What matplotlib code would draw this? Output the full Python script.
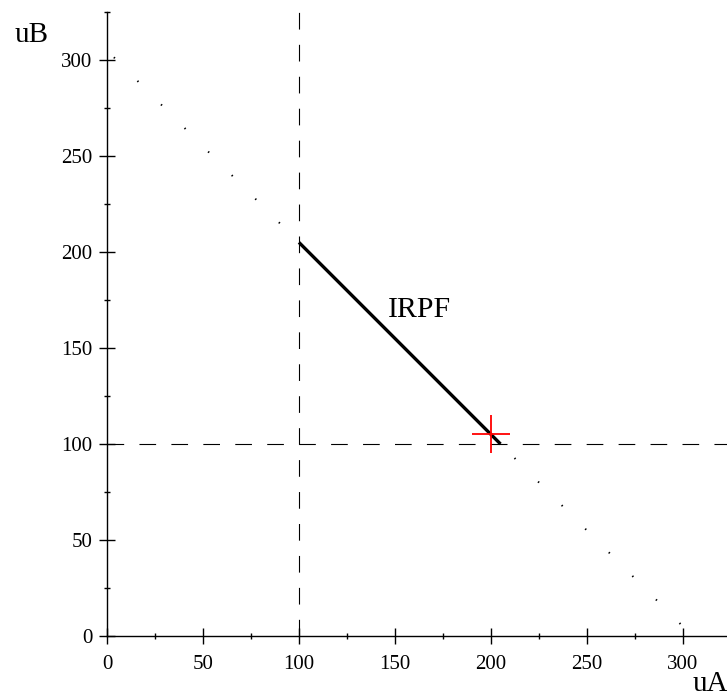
import matplotlib
matplotlib.use("Agg")
import matplotlib.pyplot as plt
from matplotlib.ticker import MultipleLocator

plt.rcParams['font.family'] = ['Liberation Serif', 'DejaVu Serif']
plt.rcParams['lines.scale_dashes'] = False

# Budgetgerade uA + uB = 305 (gepunktet)
budget_x = [0, 305]
budget_y = [305, 0]

# IRPF-Abschnitt (durchgezogen)
irpf_x = [100, 205]
irpf_y = [205, 100]

# Drohpunkt / Referenzlinien
threat_a = 100
threat_b = 100

# Gewaehlter Punkt (rotes Kreuz)
point_x = [200]
point_y = [105]

major_ticks = [0, 50, 100, 150, 200, 250, 300]

fig = plt.figure(figsize=(7.27, 6.94), dpi=100)
ax = fig.add_axes([107 / 727, 58 / 694, 620 / 727, 624 / 694])
ax.set_xlim(0, 323)
ax.set_ylim(0, 325)

# Referenzlinien gestrichelt
ax.plot([threat_a, threat_a], [0, 325], color='black', lw=0.8,
        linestyle=(0, (12, 11)))
ax.plot([0, 323], [threat_b, threat_b], color='black', lw=0.8,
        linestyle=(0, (12, 11)))

# Budgetgerade punktiert
ax.plot(budget_x, budget_y, color='black', lw=1.4,
        linestyle=(17.0, (1.0, 23.0)))

# IRPF
ax.plot(irpf_x, irpf_y, color='black', lw=2.4, solid_capstyle='butt')
ax.text(163, 170, "IRPF", fontsize=21.5, ha='center', va='center')

# rotes Kreuz
ax.plot(point_x, point_y, marker='+', color='red', markersize=28,
        mew=1.3, linestyle='none')

# Achsen wie bei Maple: durch den Ursprung
for side in ['top', 'right']:
    ax.spines[side].set_visible(False)
ax.spines['left'].set_position(('data', 0))
ax.spines['bottom'].set_position(('data', 0))
ax.spines['left'].set_linewidth(1.0)
ax.spines['bottom'].set_linewidth(1.0)

ax.set_xticks(major_ticks)
ax.set_yticks(major_ticks)
ax.xaxis.set_minor_locator(MultipleLocator(25))
ax.yaxis.set_minor_locator(MultipleLocator(25))
ax.tick_params(which='major', direction='inout', length=12, width=1.0,
               labelsize=15)
ax.tick_params(axis='x', which='major', pad=8)
ax.tick_params(axis='y', which='major', pad=4.5)
ax.tick_params(which='minor', direction='inout', length=5, width=1.0)

fig.text(15 / 727, 1 - 42 / 694, "uB", fontsize=21, ha='left', va='baseline')
fig.text(693 / 727, 0.004, "uA", fontsize=21, ha='left', va='baseline')

fig.savefig("out.png", dpi=100)
